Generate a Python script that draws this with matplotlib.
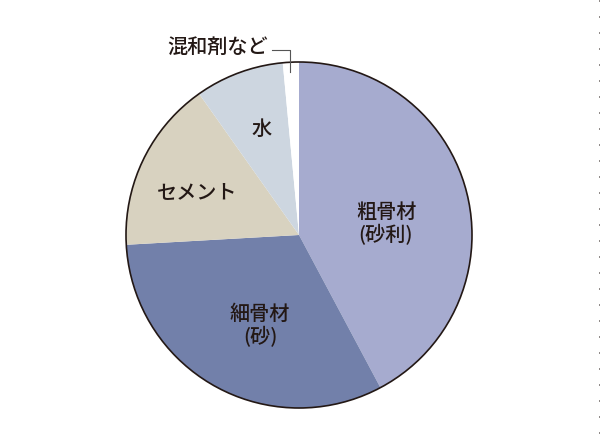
import matplotlib.pyplot as plt
from matplotlib.patches import Circle

plt.rcParams['font.family'] = ['Noto Sans CJK JP', 'DejaVu Sans']

# コンクリートの構成比（%）
labels = ['粗骨材\n(砂利)', '細骨材\n(砂)', 'セメント', '水', '混和剤など']
shares = [42.2, 31.9, 16.1, 8.3, 1.5]
colors = ['#a6abcf', '#7280aa', '#d8d2c0', '#cdd6e0', '#ffffff']

text_color = '#231815'

W, H = 600, 447
fig = plt.figure(figsize=(W / 100, H / 100), dpi=100)
ax = fig.add_axes([0, 0, 1, 1])

cx, cy, r = 299, H - 235, 173
wedges, _ = ax.pie(shares, colors=colors, startangle=90, counterclock=False,
                   center=(cx, cy), radius=r,
                   wedgeprops=dict(linewidth=0, antialiased=True))
ax.add_patch(Circle((cx, cy), r, fill=False, edgecolor=text_color, lw=1.2))

ax.set_xlim(0, W)
ax.set_ylim(0, H)
ax.set_aspect('equal')
ax.axis('off')

# ラベル位置（ピクセル座標）
label_pos = [(386, 224), (260, 326), (197, 193), (262, 129)]
for txt, (x, y) in zip(labels[:4], label_pos):
    ax.text(x, H - y, txt, ha='center', va='center', fontsize=14.5,
            color=text_color, linespacing=1.1, fontweight='medium')

# 混和剤など（引き出し線付き）
ax.text(268, H - 47, labels[4], ha='right', va='center', fontsize=14.5,
        color=text_color, fontweight='medium')
ax.plot([272, 290, 290], [H - 50, H - 50, H - 72], color='#555555', lw=0.8)

# 右端の点線
ax.plot([599, 599], [0, H], color=text_color, lw=0.72, linestyle=(2, (1, 15)))

fig.savefig('out.png', dpi=100)
